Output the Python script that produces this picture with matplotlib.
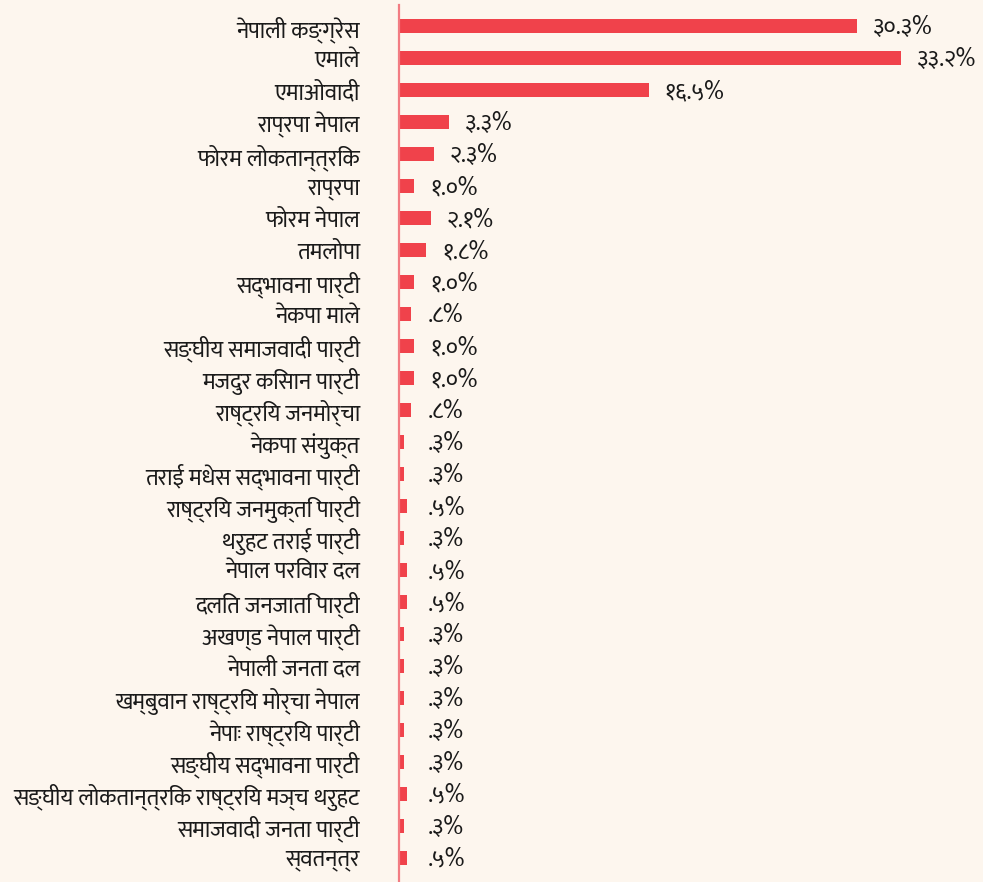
import matplotlib
matplotlib.use("Agg")
import matplotlib.pyplot as plt

parties = [
    "नेपाली कङ्ग्रेस", "एमाले", "एमाओवादी", "राप्रपा नेपाल", "फोरम लोकतान्त्रिक",
    "राप्रपा", "फोरम नेपाल", "तमलोपा", "सद्भावना पार्टी", "नेकपा माले",
    "सङ्घीय समाजवादी पार्टी", "मजदुर किसान पार्टी", "राष्ट्रिय जनमोर्चा",
    "नेकपा संयुक्त", "तराई मधेस सद्भावना पार्टी", "राष्ट्रिय जनमुक्ति पार्टी",
    "थरुहट तराई पार्टी", "नेपाल परिवार दल", "दलित जनजाति पार्टी",
    "अखण्ड नेपाल पार्टी", "नेपाली जनता दल", "खम्बुवान राष्ट्रिय मोर्चा नेपाल",
    "नेपाः राष्ट्रिय पार्टी", "सङ्घीय सद्भावना पार्टी",
    "सङ्घीय लोकतान्त्रिक राष्ट्रिय मञ्च थरुहट", "समाजवादी जनता पार्टी", "स्वतन्त्र",
]
share = [30.3, 33.2, 16.5, 3.3, 2.3, 1.0, 2.1, 1.8, 1.0, 0.8,
         1.0, 1.0, 0.8, 0.3, 0.3, 0.5, 0.3, 0.5, 0.5, 0.3,
         0.3, 0.3, 0.3, 0.3, 0.5, 0.3, 0.5]

digits = str.maketrans("0123456789", "०१२३४५६७८९")


def nepali_pct(v):
    s = f"{v:.1f}"
    if s.startswith("0"):
        s = s[1:]
    return s.translate(digits) + "%"


W, H = 983, 882
bg = "#fdf6ee"
fig = plt.figure(figsize=(W / 100, H / 100), dpi=100, facecolor=bg)
ax = fig.add_axes([399 / W, 0, (W - 399) / W, (H - 5) / H], facecolor=bg)

fonts = ["Mukta", "DejaVu Sans"]
n = len(parties)
ypos = list(range(n))
ax.barh(ypos, share, height=0.44, color="#f0424b", zorder=2)

ax.set_xlim(0, 38.62)
ax.set_ylim(n - 1 + 0.75, -0.67)

ax.set_yticks(ypos)
ax.set_yticklabels(parties, family=fonts, fontsize=16.5, color="#1a1a1a")
ax.tick_params(axis="y", length=0, pad=28)
ax.set_xticks([])

for s in ["top", "right", "bottom"]:
    ax.spines[s].set_visible(False)
ax.spines["left"].set_color("#f27c82")
ax.spines["left"].set_linewidth(1.6)
ax.spines["left"].set_zorder(3)

for y, v in zip(ypos, share):
    x = max(v + 1.06, 1.92)
    ax.text(x, y + 0.06, nepali_pct(v), va="center", ha="left", family=fonts,
            fontsize=17, color="#1a1a1a")

fig.savefig("out.png", dpi=100, facecolor=bg)
